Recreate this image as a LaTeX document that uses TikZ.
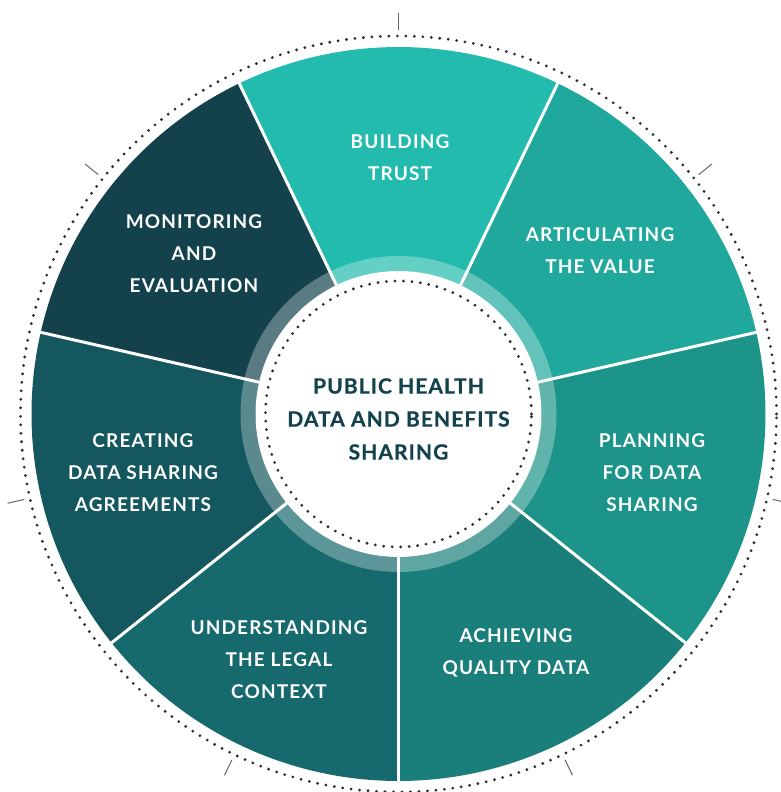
\documentclass[tikz,border=0pt]{standalone}
\usepackage{fontspec}
\setmainfont{Lato}
\newfontfamily\segfont{Lato}[LetterSpace=6]
\newfontfamily\hubfont{Lato}[LetterSpace=5, BoldFeatures={FakeBold=0.6}]
\definecolor{segA}{RGB}{34,187,173}
\definecolor{segB}{RGB}{32,168,156}
\definecolor{segC}{RGB}{28,148,137}
\definecolor{segD}{RGB}{26,127,122}
\definecolor{segE}{RGB}{22,105,108}
\definecolor{segF}{RGB}{20,87,94}
\definecolor{segG}{RGB}{19,66,76}
\definecolor{hubtext}{RGB}{19,66,76}
\definecolor{dotgray}{RGB}{45,45,50}
\tikzset{
  seglabel/.style={text=white, align=center, font=\segfont\bfseries\fontsize{19}{32}\selectfont},
  hublabel/.style={text=hubtext, align=center, font=\hubfont\bfseries\fontsize{21}{33}\selectfont},
  divider/.style={white, line width=3pt},
  dotring/.style={dotgray, line width=3.1pt, line cap=round, dash pattern=on 0pt off 8.5pt},
  tickmark/.style={gray!80!black, line width=1pt}
}
\begin{document}
\begin{tikzpicture}[x=1pt,y=1pt]
  \useasboundingbox (-398.5,-378) rectangle (382.5,414);
  \def\Rout{367}
  \def\Rring{158}
  \def\Rhub{143}
  % seven sectors, each 360/7 degrees wide
  \foreach \c [count=\i from 0] in {segA,segB,segC,segD,segE,segF,segG} {
    \pgfmathsetmacro{\sa}{115.714-\i*51.4286}
    \pgfmathsetmacro{\ea}{\sa-51.4286}
    \fill[\c] (0,0) -- (\sa:\Rout) arc[start angle=\sa, end angle=\ea, radius=\Rout] -- cycle;
  }
  % white dividers between sectors
  \foreach \i in {0,...,6} {
    \pgfmathsetmacro{\a}{115.714-\i*51.4286}
    \draw[divider] (\a:\Rhub) -- (\a:\Rout+1);
  }
  % translucent ring and white hub
  \fill[white, opacity=0.3, even odd rule] (0,0) circle[radius=\Rring] (0,0) circle[radius=\Rhub];
  \fill[white] (0,0) circle[radius=\Rhub];
  % dotted circles
  \draw[dotring] (0,0) circle[radius=378];
  \draw[dotring] (0,0) circle[radius=133];
  % radial ticks at sector centres
  \foreach \i in {0,...,6} {
    \pgfmathsetmacro{\a}{90-\i*51.4286}
    \draw[tickmark] (\a:384) -- (\a:401);
  }
  % labels
  \node[seglabel] (trust) at (1.5,256.5) {BUILDING\\TRUST};
  \node[seglabel] (value) at (201.5,163.5) {ARTICULATING\\THE VALUE};
  \node[seglabel] (plan) at (253.5,-58.5) {PLANNING\\FOR DATA\\SHARING};
  \node[seglabel] (quality) at (117.5,-238.5) {ACHIEVING\\QUALITY DATA};
  \node[seglabel] (legal) at (-119.5,-245.5) {UNDERSTANDING\\THE LEGAL\\CONTEXT};
  \node[seglabel] (agree) at (-255.5,-58.5) {CREATING\\DATA SHARING\\AGREEMENTS};
  \node[seglabel] (monitor) at (-204.5,160.5) {MONITORING\\AND\\EVALUATION};
  \node[hublabel] (hub) at (0,-5) {PUBLIC HEALTH\\DATA AND BENEFITS\\SHARING};
\end{tikzpicture}
\end{document}
